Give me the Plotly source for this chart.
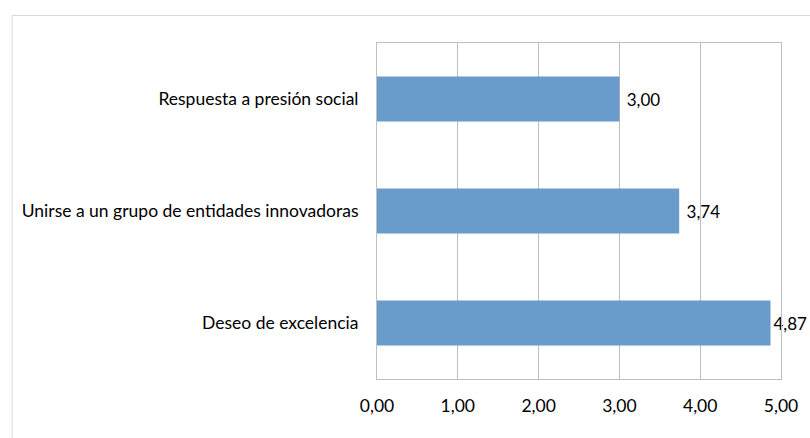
import plotly.graph_objects as go

categories = ["Deseo de excelencia", "Unirse a un grupo de entidades innovadoras", "Respuesta a presión social"]
values = [4.87, 3.74, 3.00]
tick_vals = [0, 1, 2, 3, 4, 5]
tick_text = ["0,00", "1,00", "2,00", "3,00", "4,00", "5,00"]

W, H = 810, 438
L, R, T, B = 377, 785, 43, 379
FONT = dict(family="Lato, Carlito, Calibri, sans-serif", size=17.5, color="#000000")
LABEL_FONT = dict(family="Lato, Carlito, Calibri, sans-serif", size=17, color="#000000")
GRID = "#BFBFBF"

labels = []
for v in values:
    s = f"{v:.2f}".replace(".", ",")
    # Excel nudged the last label closer to the bar so it fits the frame
    labels.append(s if v > 4.5 else " " + s)

fig = go.Figure(go.Bar(
    x=values, y=categories, orientation="h",
    marker=dict(color="#6A9CCB", line=dict(width=0)),
    text=labels,
    textposition="outside", cliponaxis=False,
    textfont=LABEL_FONT,
))

def px_to_paper_x(px):
    return (px - L) / (R - L)

def px_to_paper_y(py):
    return (B - py) / (B - T)

fig.update_layout(
    width=W, height=H,
    margin=dict(l=L, r=W - R, t=T, b=H - B, pad=0),
    paper_bgcolor="white", plot_bgcolor="white",
    bargap=0.6, showlegend=False,
    font=FONT,
    xaxis=dict(range=[0, 5], tickvals=tick_vals, ticktext=tick_text,
               showgrid=True, gridcolor=GRID, gridwidth=1,
               showline=True, linecolor=GRID, linewidth=1, mirror=True,
               zeroline=False, ticks="outside", ticklen=11, tickcolor="rgba(0,0,0,0)",
               tickfont=FONT, fixedrange=True),
    yaxis=dict(showgrid=False, showline=True, linecolor=GRID, linewidth=1, mirror=True,
               ticks="outside", ticklen=14, tickcolor="rgba(0,0,0,0)",
               tickfont=FONT, fixedrange=True),
    shapes=[dict(type="rect", xref="paper", yref="paper",
                 x0=px_to_paper_x(8.5), x1=px_to_paper_x(830),
                 y0=px_to_paper_y(460), y1=px_to_paper_y(15.5),
                 line=dict(color="#D9D9D9", width=1), layer="below")],
)

fig.write_html("out.html", post_script="document.body.style.margin='0';",
               config={"displayModeBar": False})
